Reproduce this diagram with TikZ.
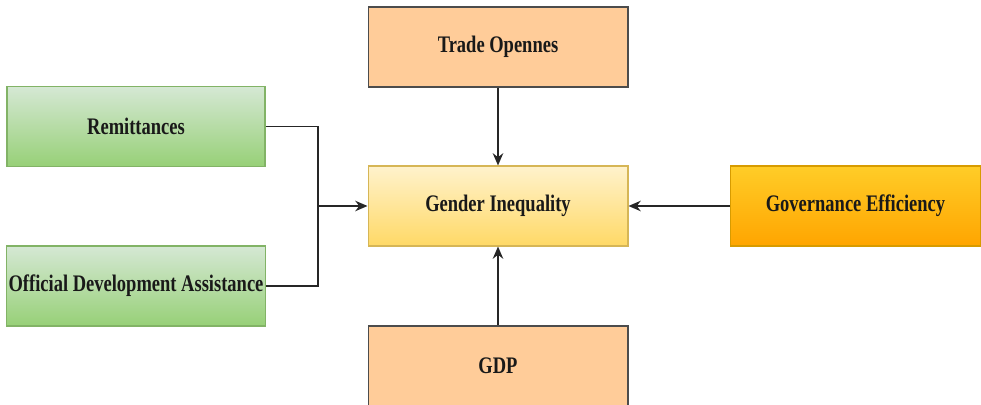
\documentclass[tikz,border=0pt]{standalone}
\usepackage{fontspec}
\setmainfont{Liberation Serif}[FakeStretch=0.78]
\usetikzlibrary{arrows.meta}

\definecolor{salmonfill}{RGB}{255,204,153}
\definecolor{greentop}{RGB}{213,232,212}
\definecolor{greenbot}{RGB}{151,208,119}
\definecolor{greenline}{RGB}{130,179,102}
\definecolor{yellowtop}{RGB}{255,242,204}
\definecolor{yellowbot}{RGB}{255,217,102}
\definecolor{yellowline}{RGB}{214,182,86}
\definecolor{govtop}{RGB}{255,205,40}
\definecolor{govbot}{RGB}{255,165,0}
\definecolor{govline}{RGB}{215,155,0}

\begin{document}
\begin{tikzpicture}[x=0.02cm, y=-0.02cm,
    box/.style={draw, line width=0.6pt, minimum width=5.2cm, minimum height=1.6cm,
        font=\bfseries\fontsize{13.5}{15}\selectfont, text=black!90, inner sep=1pt},
    salmon/.style={box, fill=salmonfill, draw=black!70},
    greenbox/.style={box, minimum width=5.16cm, top color=greentop, bottom color=greenbot, draw=greenline},
    yellowbox/.style={box, top color=yellowtop, bottom color=yellowbot, draw=yellowline},
    govbox/.style={box, minimum width=5.02cm, top color=govtop, bottom color=govbot, draw=govline},
    link/.style={line width=0.8pt, black!85},
    arr/.style={link, -{Stealth[length=7pt, width=6pt]}}]
    \useasboundingbox (0,0) rectangle (981,405);

    \node[salmon] (trade) at (498,47) {Trade Opennes};
    \node[greenbox] (remit) at (136,126.5) {Remittances};
    \node[greenbox] (oda) at (136,286) {Official Development Assistance};
    \node[yellowbox] (gender) at (498,206) {Gender Inequality};
    \node[govbox] (gov) at (855.5,206) {Governance Efficiency};
    \node[salmon] (gdp) at (498,366) {GDP};

    % the two inflows meet before the arrow
    \coordinate (join) at (318,206);
    \draw[link] (remit.east) -| (join);
    \draw[link] (oda.east) -| (join);
    \draw[arr] (join) -- (gender.west);

    \draw[arr] (trade.south) -- (gender.north);
    \draw[arr] (gdp.north) -- (gender.south);
    \draw[arr] (gov.west) -- (gender.east);
\end{tikzpicture}
\end{document}
